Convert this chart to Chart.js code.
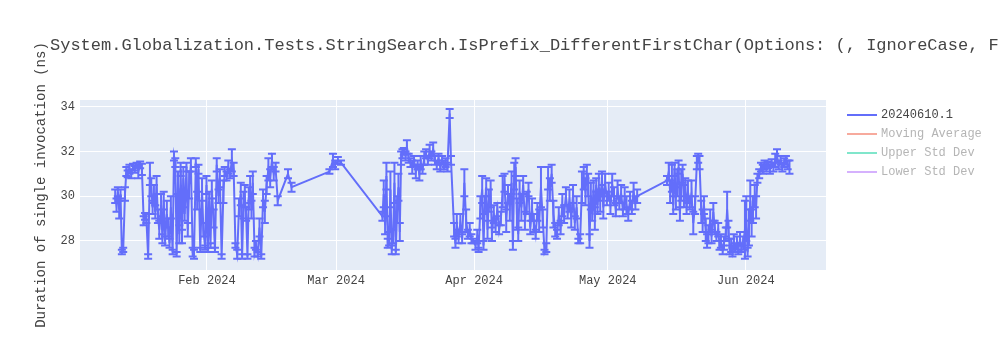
<!DOCTYPE html>
<html>
<head>
<meta charset="utf-8">
<script src="https://cdn.jsdelivr.net/npm/chart.js@4.4.1/dist/chart.umd.min.js"></script>
<style>
  body { margin: 0; background: #fff; }
  #wrap { width: 1000px; height: 350px; position: relative; }
</style>
</head>
<body>
<div id="wrap"><canvas id="durationChart"></canvas></div>
<script>
// run dates as days since 2024-01-01 (fractional = time of day)
var runDays = [
  10.4, 10.7, 11.0, 11.3, 11.6, 11.9, 12.2, 12.6, 12.9, 13.2, 13.6, 14.0, 14.4, 14.8, 15.2, 15.6, 16.0, 16.4, 16.8, 17.1,
  17.4, 17.8, 18.2, 18.5, 18.8, 19.1, 19.4, 19.7, 20.0, 20.3, 20.7, 21.0, 21.3, 21.6, 22.0, 22.3, 22.6, 22.9, 23.3, 23.6,
  23.9, 24.2, 24.5, 24.8, 25.1, 25.4, 25.7, 26.0, 26.4, 26.7, 27.0, 27.4, 27.8, 28.1, 28.5, 28.8, 29.1, 29.5, 29.9, 30.2,
  30.6, 30.9, 31.2, 31.5, 31.8, 32.1, 32.5, 32.8, 33.2, 33.6, 33.9, 34.3, 34.7, 35.0, 35.4, 35.8, 36.2, 36.6, 37.0, 37.4,
  37.8, 38.2, 38.6, 38.9, 39.2, 39.5, 39.8, 40.1, 40.4, 40.7, 41.0, 41.3, 41.7, 42.0, 42.4, 42.8, 43.2, 43.6, 44.0, 44.4,
  44.8, 45.2, 45.6, 46.0, 46.4, 46.9, 49.2, 50.0,
  58.5, 59.3, 59.8, 60.4, 61.1,
  70.4, 70.7, 71.0, 71.3, 71.6, 71.9, 72.2, 72.5, 72.8, 73.1, 73.4, 73.7, 74.0, 74.3, 74.6, 74.9, 75.2, 75.6, 75.9, 76.3,
  76.7, 77.1, 77.5, 77.9, 78.3, 78.7, 79.0, 79.4, 79.8, 80.2, 80.6, 81.0, 81.4, 81.8, 82.2, 82.6, 83.0, 83.4, 83.8, 84.2,
  84.6, 85.0, 85.5, 85.8, 86.5, 86.8, 87.1, 87.5, 87.9, 88.3, 88.8, 89.2, 89.6, 90.0, 90.4, 90.8, 91.3, 91.7, 92.0, 92.4,
  92.8, 93.1, 93.4, 93.7, 94.0, 94.3, 94.7, 95.0, 95.4, 95.8, 96.2, 96.6, 97.0, 97.4, 97.8, 98.2, 98.6, 99.0, 99.4, 99.7,
  100.0, 100.3, 100.6, 100.9, 101.2, 101.6, 102.0, 102.4, 102.8, 103.2, 103.6, 104.0, 104.4, 104.8, 105.2, 105.6, 106.0, 106.4, 106.8, 107.2,
  107.6, 108.0, 108.4, 108.8, 109.2, 109.6, 110.0, 110.4, 110.8, 111.2, 111.6, 112.0, 112.4, 112.8, 113.2, 113.6, 114.0, 114.4, 114.8, 115.2,
  115.6, 116.0, 116.3, 116.6, 116.9, 117.2, 117.5, 117.8, 118.1, 118.4, 118.7, 119.0, 119.3, 119.7, 120.0, 120.4, 120.8, 121.2, 121.6, 122.0,
  122.4, 122.8, 123.2, 123.6, 124.0, 124.4, 124.8, 125.2, 125.6, 126.0, 126.4, 126.8, 127.2, 127.6,
  134.3, 134.7, 135.0, 135.4, 135.7, 136.0, 136.3, 136.6, 136.9, 137.2, 137.5, 137.8, 138.1, 138.4, 138.7, 139.0, 139.4, 139.8, 140.2, 140.6,
  141.0, 141.3, 141.6, 142.0, 142.3, 142.6, 143.0, 143.3, 143.6, 144.0, 144.3, 144.7, 145.0, 145.4, 145.8, 146.1, 146.4, 146.8, 147.1, 147.5,
  147.8, 148.1, 148.4, 148.7, 149.0, 149.3, 149.6, 150.0, 150.3, 150.7, 151.0, 151.4, 151.8, 152.1, 152.4, 152.7, 153.0, 153.3, 153.6, 154.0,
  154.3, 154.6, 155.0, 155.4, 155.8, 156.2, 156.6, 157.0, 157.4, 157.8, 158.2, 158.6, 159.0, 159.4, 159.8, 160.2, 160.6, 161.0, 161.4, 161.8
];

// mean duration per run (ns)
var durations = [
  30.0, 29.6, 30.2, 29.4, 30.1, 27.5, 27.6, 30.1, 31.1, 31.0, 31.2, 31.0, 31.3, 31.2, 31.4, 31.1, 31.4, 31.2, 28.9, 29.1,
  29.0, 27.3, 31.0, 30.4, 29.5, 30.1, 29.3, 30.5, 29.1, 28.5, 29.6, 28.1, 29.8, 28.0, 29.2, 28.6, 27.9, 29.5, 27.5, 31.8,
  31.5, 27.4, 30.6, 28.3, 31.2, 28.2, 30.8, 29.2, 31.3, 28.5, 30.5, 31.4, 27.5, 27.4, 31.5, 29.8, 31.2, 27.6, 30.3, 28.5,
  27.7, 30.5, 27.6, 29.8, 27.8, 30.3, 29.0, 27.6, 31.4, 30.0, 30.8, 27.3, 30.2, 31.1, 30.9, 31.3, 31.0, 31.6, 31.2, 27.8,
  27.4, 29.5, 30.1, 27.3, 29.6, 30.0, 29.2, 27.3, 29.9, 30.3, 29.4, 30.6, 27.5, 27.8, 27.4, 28.6, 27.3, 29.9, 29.3, 30.5,
  31.2, 30.8, 31.6, 31.0, 31.3, 29.8, 31.0, 30.4,
  31.1, 31.6, 31.4, 31.6, 31.5,
  29.1, 30.1, 28.7, 30.9, 27.9, 28.1, 30.3, 27.6, 28.2, 30.6, 27.5, 29.4, 30.4, 28.4, 31.7, 31.9, 32.0, 31.8, 32.2, 31.7,
  31.5, 31.3, 31.6, 31.1, 31.4, 31.0, 31.5, 31.2, 31.7, 31.9, 31.6, 32.0, 31.8, 32.1, 31.6, 31.4, 31.7, 31.3, 31.6, 31.4,
  31.5, 31.3, 33.7, 31.6, 28.5, 27.9, 28.7, 28.2, 28.8, 28.1, 30.6, 28.9, 28.3, 28.5, 28.1, 28.0, 27.8, 28.2, 27.6, 29.5,
  30.3, 27.8, 29.6, 30.4, 28.5, 29.8, 30.1, 28.3, 29.2, 28.7, 29.4, 28.5, 29.0, 30.2, 30.6, 28.9, 30.1, 29.5, 30.6, 27.8,
  30.9, 31.3, 29.2, 28.3, 30.2, 29.5, 30.5, 28.9, 29.7, 30.3, 28.6, 29.4, 28.8, 28.3, 29.3, 28.9, 30.4, 29.0, 27.5, 27.7,
  30.8, 30.3, 31.0, 29.2, 28.5, 28.3, 29.1, 28.6, 29.6, 29.2, 30.0, 29.3, 29.8, 29.0, 30.1, 28.8, 29.5, 28.0, 28.1, 30.4,
  30.8, 30.2, 31.0, 30.5, 28.0, 30.0, 29.2, 30.3, 29.0, 30.5, 29.6, 30.4, 29.8, 30.8, 29.5, 30.6, 29.9, 30.2, 29.6, 30.5,
  30.0, 29.4, 30.3, 29.7, 30.1, 29.4, 29.9, 29.6, 29.2, 29.8, 29.5, 30.2, 29.7, 30.0,
  30.7, 31.1, 30.2, 30.8, 29.6, 31.2, 29.9, 30.6, 31.3, 29.2, 30.5, 31.0, 30.0, 30.4, 29.5, 30.2, 29.7, 30.1, 28.8, 29.6,
  31.5, 31.7, 31.5, 29.3, 28.9, 29.6, 28.5, 28.0, 28.3, 28.9, 28.2, 29.3, 28.6, 28.2, 28.5, 27.8, 28.0, 27.6, 27.9, 28.3,
  29.4, 28.5, 27.6, 27.8, 27.5, 28.0, 27.7, 27.9, 27.6, 28.1, 27.7, 27.9, 28.5, 29.0, 27.5, 28.6, 29.8, 28.8, 29.4, 30.0,
  29.5, 30.8, 31.0, 31.3, 31.2, 31.4, 31.3, 31.4, 31.2, 31.5, 31.3, 31.6, 31.8, 31.4, 31.6, 31.3, 31.5, 31.6, 31.4, 31.3
];

// standard deviation per run (ns)
var stdDevs = [
  0.3, 0.3, 0.2, 0.4, 0.2, 0.1, 0.1, 0.3, 0.2, 0.15, 0.2, 0.2, 0.15, 0.15, 0.1, 0.3, 0.15, 0.25, 0.2, 0.15,
  0.2, 0.1, 0.5, 0.4, 0.3, 0.4, 0.3, 0.4, 0.3, 0.4, 0.5, 0.2, 0.4, 0.2, 0.6, 0.4, 0.2, 0.5, 0.1, 0.2,
  0.2, 0.1, 0.5, 0.4, 0.3, 0.3, 0.5, 0.3, 0.2, 0.3, 0.6, 0.3, 0.2, 0.2, 0.2, 0.4, 0.2, 0.1, 0.5, 0.3,
  0.1, 0.4, 0.1, 0.4, 0.1, 0.4, 0.4, 0.1, 0.3, 0.3, 0.4, 0.1, 0.5, 0.2, 0.2, 0.3, 0.2, 0.5, 0.3, 0.1,
  0.2, 0.4, 0.5, 0.1, 0.6, 0.5, 0.3, 0.1, 0.5, 0.6, 0.4, 0.5, 0.2, 0.2, 0.1, 0.4, 0.1, 0.4, 0.5, 0.4,
  0.5, 0.4, 0.3, 0.3, 0.2, 0.2, 0.2, 0.2,
  0.1, 0.3, 0.2, 0.15, 0.1,
  0.2, 0.6, 0.4, 0.6, 0.2, 0.3, 0.8, 0.2, 0.3, 0.9, 0.1, 0.6, 0.6, 0.4, 0.3, 0.2, 0.15, 0.2, 0.3, 0.2,
  0.2, 0.3, 0.2, 0.3, 0.2, 0.3, 0.3, 0.2, 0.3, 0.2, 0.2, 0.3, 0.2, 0.3, 0.2, 0.2, 0.2, 0.2, 0.2, 0.2,
  0.2, 0.2, 0.2, 0.2, 0.3, 0.2, 0.5, 0.3, 0.4, 0.2, 0.6, 0.5, 0.2, 0.3, 0.2, 0.1, 0.2, 0.3, 0.1, 0.5,
  0.6, 0.2, 0.4, 0.4, 0.4, 0.5, 0.6, 0.3, 0.4, 0.3, 0.3, 0.2, 0.3, 0.7, 0.4, 0.5, 0.4, 0.6, 0.5, 0.2,
  0.6, 0.4, 0.7, 0.3, 0.5, 0.6, 0.4, 0.4, 0.5, 0.3, 0.3, 0.5, 0.4, 0.2, 0.4, 0.5, 0.9, 0.4, 0.1, 0.2,
  0.5, 0.5, 0.4, 0.6, 0.3, 0.2, 0.4, 0.3, 0.5, 0.4, 0.4, 0.3, 0.5, 0.4, 0.4, 0.3, 0.5, 0.1, 0.2, 0.7,
  0.5, 0.6, 0.4, 0.5, 0.3, 0.6, 0.3, 0.4, 0.5, 0.3, 0.4, 0.6, 0.5, 0.3, 0.5, 0.4, 0.3, 0.4, 0.4, 0.5,
  0.4, 0.3, 0.4, 0.3, 0.4, 0.3, 0.5, 0.4, 0.3, 0.4, 0.3, 0.4, 0.3, 0.3,
  0.2, 0.4, 0.5, 0.6, 0.4, 0.3, 0.5, 0.6, 0.3, 0.3, 0.7, 0.4, 0.5, 0.4, 0.3, 0.5, 0.3, 0.6, 0.5, 0.4,
  0.3, 0.2, 0.3, 0.5, 0.5, 0.4, 0.5, 0.3, 0.4, 0.5, 0.3, 0.4, 0.3, 0.2, 0.3, 0.2, 0.3, 0.2, 0.3, 0.3,
  0.8, 0.4, 0.2, 0.3, 0.2, 0.3, 0.2, 0.3, 0.2, 0.3, 0.2, 0.3, 1.3, 1.0, 0.2, 0.8, 0.9, 0.6, 0.6, 0.5,
  0.5, 0.2, 0.2, 0.2, 0.2, 0.2, 0.2, 0.15, 0.2, 0.15, 0.2, 0.3, 0.3, 0.2, 0.2, 0.2, 0.2, 0.2, 0.2, 0.3
];

var monthTicks = [31, 60, 91, 121, 152];
var monthLabels = ["Feb 2024", "Mar 2024", "Apr 2024", "May 2024", "Jun 2024"];
var yTicks = [28, 30, 32, 34];

var chartTitle = "System.Globalization.Tests.StringSearch.IsPrefix_DifferentFirstChar(Options: (, IgnoreCase, FullWidth))";
var MONO = '"Liberation Mono", "Courier New", monospace';

// plot background
var plotBackground = {
  id: "plotBackground",
  beforeDraw: function (chart) {
    var a = chart.chartArea, ctx = chart.ctx;
    ctx.save();
    ctx.fillStyle = "#e5ecf6";
    ctx.fillRect(a.left, a.top, a.right - a.left, a.bottom - a.top);
    ctx.restore();
  },
};

// vertical error bars with caps, +/- one std dev
var errorBars = {
  id: "errorBars",
  beforeDatasetsDraw: function (chart) {
    var ctx = chart.ctx, a = chart.chartArea;
    var xs = chart.scales.x, ys = chart.scales.y;
    ctx.save();
    ctx.beginPath();
    ctx.rect(a.left, a.top, a.right - a.left, a.bottom - a.top);
    ctx.clip();
    ctx.strokeStyle = "#636efa";
    ctx.lineWidth = 2;
    for (var i = 0; i < runDays.length; i++) {
      var px = xs.getPixelForValue(runDays[i]);
      var hi = ys.getPixelForValue(durations[i] + stdDevs[i]);
      var lo = ys.getPixelForValue(durations[i] - stdDevs[i]);
      ctx.beginPath();
      ctx.moveTo(px, hi); ctx.lineTo(px, lo);
      ctx.moveTo(px - 4, hi); ctx.lineTo(px + 4, hi);
      ctx.moveTo(px - 4, lo); ctx.lineTo(px + 4, lo);
      ctx.stroke();
    }
    ctx.restore();
  },
};

// title and legend, placed like the plotly layout
var plotText = {
  id: "plotText",
  afterDraw: function (chart) {
    var ctx = chart.ctx;
    ctx.save();
    ctx.textBaseline = "middle";
    ctx.textAlign = "left";
    ctx.fillStyle = "#444";
    ctx.font = "17px " + MONO;
    ctx.fillText(chartTitle, 50, 45);

    ctx.font = "12px " + MONO;
    chart.data.datasets.forEach(function (ds, i) {
      var y = 115 + i * 19;
      ctx.strokeStyle = ds.legendColor;
      ctx.lineWidth = 2;
      ctx.beginPath();
      ctx.moveTo(847, y);
      ctx.lineTo(877, y);
      ctx.stroke();
      ctx.fillStyle = ds.hidden ? "#b5b5b5" : "#444";
      ctx.fillText(ds.label, 881, y);
    });
    ctx.restore();
  },
};

var points = runDays.map(function (d, i) {
  return { x: d, y: durations[i] };
});

var ctx = document.getElementById("durationChart").getContext("2d");
var durationChart = new Chart(ctx, {
  type: "line",
  data: {
    datasets: [
      {
        label: "20240610.1",
        data: points,
        borderColor: "#636efa",
        legendColor: "#636efa",
        borderWidth: 2,
        pointRadius: 0,
        tension: 0,
      },
      { label: "Moving Average", data: [], hidden: true, legendColor: "#f7aa9d" },
      { label: "Upper Std Dev", data: [], hidden: true, legendColor: "#80e6cb" },
      { label: "Lower Std Dev", data: [], hidden: true, legendColor: "#d5b1fd" },
    ],
  },
  options: {
    responsive: true,
    maintainAspectRatio: false,
    animation: false,
    layout: {
      padding: { left: 0, right: 174, top: 100, bottom: 0 },
    },
    scales: {
      x: {
        type: "linear",
        min: 2.5,
        max: 170,
        afterBuildTicks: function (axis) {
          axis.ticks = monthTicks.map(function (v) { return { value: v }; });
        },
        afterFit: function (axis) { axis.height = 80; },
        grid: { color: "#ffffff", lineWidth: 1, drawTicks: false },
        border: { display: false },
        ticks: {
          autoSkip: false,
          maxRotation: 0,
          padding: 4,
          color: "#444",
          font: { family: MONO, size: 12 },
          callback: function (value) {
            return monthLabels[monthTicks.indexOf(value)];
          },
        },
      },
      y: {
        min: 26.7,
        max: 34.3,
        afterBuildTicks: function (axis) {
          axis.ticks = yTicks.map(function (v) { return { value: v }; });
        },
        afterFit: function (axis) { axis.width = 80; },
        grid: { color: "#ffffff", lineWidth: 1, drawTicks: false },
        border: { display: false },
        ticks: {
          padding: 5,
          color: "#444",
          font: { family: MONO, size: 12 },
        },
        title: {
          display: true,
          text: "Duration of single invocation (ns)",
          color: "#444",
          font: { family: MONO, size: 14 },
          padding: { top: 33, bottom: 0 },
        },
      },
    },
    plugins: {
      legend: { display: false },
      tooltip: { enabled: false },
    },
  },
  plugins: [plotBackground, errorBars, plotText],
});
</script>
</body>
</html>
